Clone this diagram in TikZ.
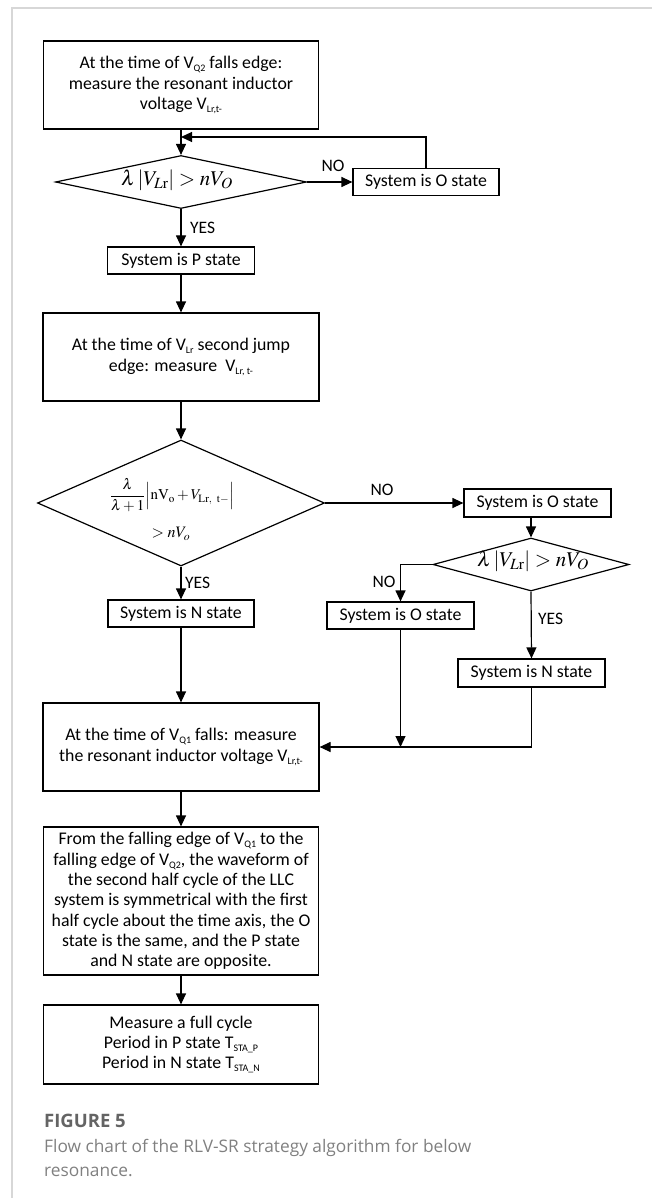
\documentclass[tikz,border=0pt]{standalone}
\usepackage{mathptmx}
\usepackage{fontspec}
\setmainfont{Carlito}
\newfontfamily\capfont{Open Sans}
\usetikzlibrary{shapes.geometric,arrows.meta}
\definecolor{framegray}{RGB}{215,215,215}
\definecolor{figgray}{RGB}{100,100,100}
\definecolor{capgray}{RGB}{128,128,128}
\newcommand\sbs[1]{\raisebox{-0.35ex}{\fontsize{10}{10}\selectfont #1}}
\begin{document}
\begin{tikzpicture}[x=1pt,y=-1pt,
  box/.style={draw, line width=1.2pt, inner sep=0pt, align=center, font=\fontsize{17.8}{20.3}\selectfont},
  dia/.style={draw, diamond, line width=1.2pt, inner sep=0pt},
  lbl/.style={font=\fontsize{17.5}{18}\selectfont, inner sep=0pt},
  frm/.style={inner sep=0pt},
  arr/.style={line width=1.2pt, -{Triangle[length=11pt,width=10pt]}}]
\useasboundingbox (0,0) rectangle (652,1198);
\draw[color=framegray, line width=1.2pt] (12,1198) -- (12,8) -- (652,8);

% boxes
\node[box, minimum width=275pt, minimum height=88pt] (b1) at (181,85)
  {At the time of V\sbs{Q2} falls edge:\\measure the resonant inductor\\voltage V\sbs{Lr,t-}};
\node[dia, minimum width=251pt, minimum height=53pt] (d1) at (181,182) {};
\node[frm, font=\fontsize{21}{21}\selectfont] (f1) at (177,180) {$\lambda\left|V_{L\mathrm{r}}\right|>nV_{O}$};
\node[box, minimum width=146pt, minimum height=27pt] (o1) at (426,182) {System is O state};
\node[box, minimum width=147pt, minimum height=27pt] (p1) at (181,260.5) {System is P state};
\node[box, minimum width=276pt, minimum height=88pt] (b2) at (181,357)
  {At the time of V\sbs{Lr} second jump\\edge: measure\ \ V\sbs{Lr, t-}};
\node[dia, minimum width=287pt, minimum height=126pt] (d2) at (181,503) {};
\node[frm, font=\fontsize{15}{15}\selectfont] (f2a) at (172,495)
  {$\displaystyle\frac{\lambda}{\lambda+1}\Bigl|\mathrm{nV}_{\mathrm{o}}+V_{\mathrm{Lr,}\;\;\mathrm{t-}}\Bigr|$};
\node[frm, font=\fontsize{16}{16}\selectfont] (f2b) at (171,534) {$>nV_{o}$};
\node[box, minimum width=147pt, minimum height=28pt] (o2) at (537.5,503) {System is O state};
\node[dia, minimum width=196pt, minimum height=53pt] (d3) at (531,564.5) {};
\node[frm, font=\fontsize{21}{21}\selectfont] (f3) at (533,561) {$\lambda\left|V_{L\mathrm{r}}\right|>nV_{O}$};
\node[box, minimum width=147pt, minimum height=27pt] (o3) at (400.5,615.5) {System is O state};
\node[box, minimum width=146pt, minimum height=27pt] (n1) at (181,613.5) {System is N state};
\node[box, minimum width=147pt, minimum height=28pt] (n2) at (531.5,673) {System is N state};
\node[box, minimum width=276pt, minimum height=88pt] (b3) at (181,747)
  {At the time of V\sbs{Q1} falls: measure\\the resonant inductor voltage V\sbs{Lr,t-}};
\node[box, minimum width=275pt, minimum height=148pt] (b4) at (181,901)
  {From the falling edge of V\sbs{Q1} to the\\falling edge of V\sbs{Q2}, the waveform of\\the second half cycle of the LLC\\system is symmetrical with the first\\half cycle about the time axis, the O\\state is the same, and the P state\\and N state are opposite.};
\node[box, minimum width=275pt, minimum height=79pt] (b5) at (181,1044.5)
  {Measure a full cycle\\Period in P state T\sbs{STA\_P}\\Period in N state T\sbs{STA\_N}};

% labels
\node[lbl] (no1) at (333,166) {NO};
\node[lbl, anchor=west] (yes1) at (190,228) {YES};
\node[lbl] (no2) at (382,490) {NO};
\node[lbl, anchor=west] (yes2) at (185,583) {YES};
\node[lbl] (no3) at (384,582) {NO};
\node[lbl, anchor=west] (yes3) at (538,619) {YES};

% connectors
\coordinate (j1) at (181,137);
\draw[arr] (b1.south) -- (d1.north);
\draw[arr] (d1.east) -- (o1.west);
\draw[arr] (o1.north) |- (j1);
\draw[arr] (d1.south) -- (p1.north);
\draw[arr] (p1.south) -- (b2.north);
\draw[arr] (b2.south) -- (d2.north);
\draw[arr] (d2.east) -- (o2.west);
\draw[arr] (o2.south -| d3.north) -- (d3.north);
\draw[arr] (d3.west) -| (o3.north);
\draw[arr] (d3.south) -- (n2.north);
\draw[arr] (d2.south) -- (n1.north);
\draw[arr] (n1.south) -- (b3.north);
\draw[arr] (n2.south) |- (b3.east);
\draw[arr] (o3.south) -- (o3.south |- b3.east);
\draw[arr] (b3.south) -- (b4.north);
\draw[arr] (b4.south) -- (b5.north);

% caption
\node[anchor=base west, inner sep=0pt, text=figgray, font=\capfont\bfseries\fontsize{18.5}{20}\selectfont] (fig) at (44,1127) {FIGURE 5};
\node[anchor=base west, inner sep=0pt, text=capgray, font=\capfont\fontsize{17.3}{24}\selectfont] (cap1) at (44,1152) {Flow chart of the RLV-SR strategy algorithm for below};
\node[anchor=base west, inner sep=0pt, text=capgray, font=\capfont\fontsize{17.3}{24}\selectfont] (cap2) at (44,1176) {resonance.};
\end{tikzpicture}
\end{document}
